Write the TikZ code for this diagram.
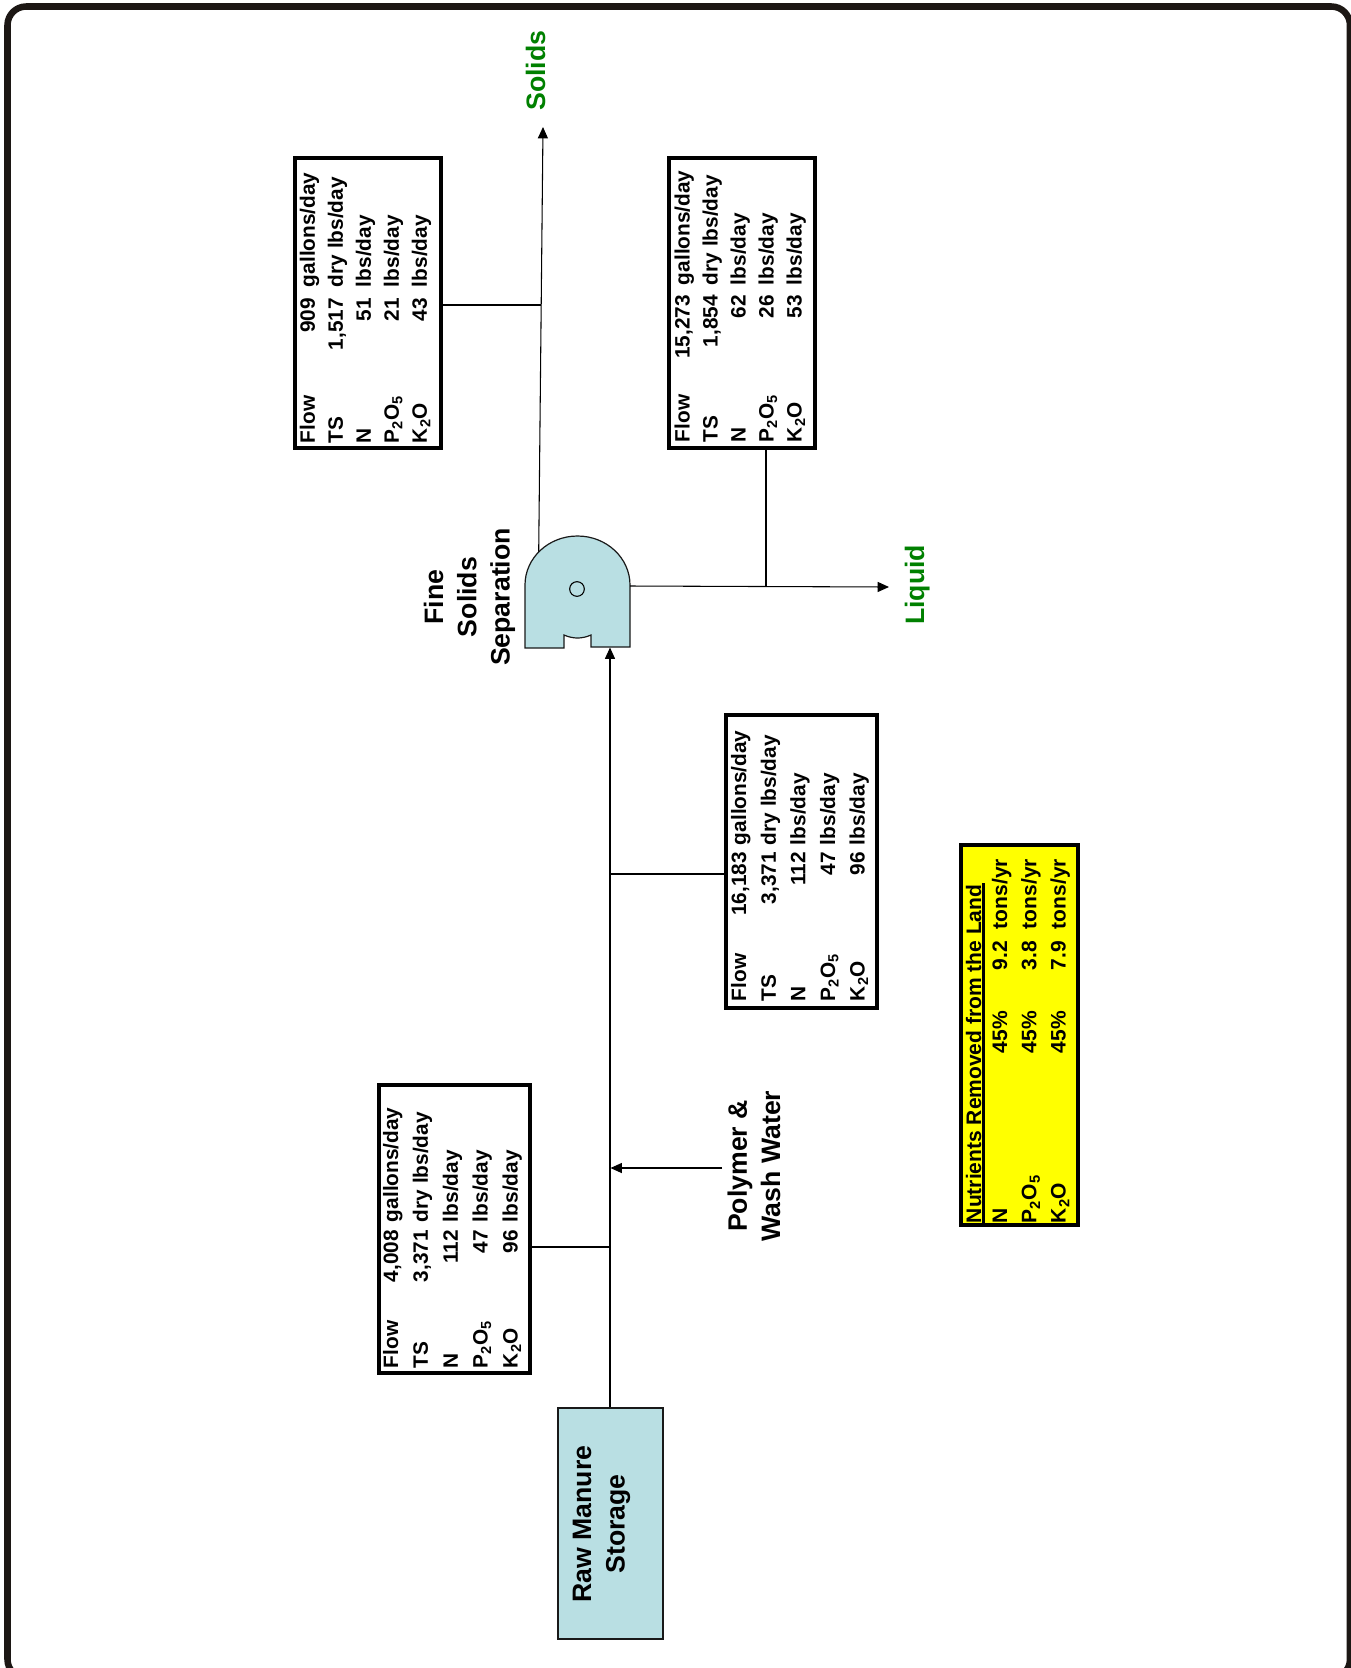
\documentclass[tikz,border=0pt]{standalone}
\usepackage{fontspec}
\usepackage{array}
\setmainfont{Liberation Sans}
\usetikzlibrary{arrows.meta}
\newcolumntype{R}[1]{>{\raggedleft\arraybackslash}p{#1}}
\definecolor{frameink}{HTML}{1C1714}
\definecolor{tankfill}{HTML}{B9DFE3}
\definecolor{streamgreen}{HTML}{008000}
\definecolor{tablefill}{HTML}{FFFF00}
\tikzset{
  frameline/.style={draw=frameink, line width=4.9pt, rounded corners=14pt},
  pipe/.style={draw=black, line width=0.8pt},
  feed/.style={pipe, -{Triangle[length=8.5pt,width=7.5pt]}},
  tank/.style={draw=black!90, fill=tankfill, line width=0.9pt},
  lbl/.style={text=black, font=\fontsize{20}{25}\selectfont\bfseries, align=center, rotate=90},
  stream/.style={lbl, text=streamgreen},
  flowbox/.style={draw=black, line width=3pt, rotate=90, inner sep=0pt,
    minimum width=217.5pt, minimum height=109.5pt,
    font=\fontsize{15.6}{21}\selectfont\bfseries}
}

\begin{document}
\begin{tikzpicture}[x=0.75pt, y=-0.75pt]
    \useasboundingbox (0,0) rectangle (1351,1668);
    \draw[frameline] (7.5,6.5) rectangle (1350,1678);

    % --- EQUIPMENT ---
    \node[tank, minimum width=78.75pt, minimum height=173.25pt] (rawtank) at (610.5,1523.5) {};
    \node[lbl] (rawlabel) at (601.5,1524) {Raw Manure\\Storage};

    % separator
    \coordinate (sepin) at (610,647.5);
    \coordinate (sepsolids) at (538.7,552);
    \coordinate (sepliquid) at (630,586);
    \coordinate (soltip) at (543,127);
    \coordinate (liqtip) at (889,587);
    \draw[feed] (sepsolids) -- (soltip);
    \draw[tank] (525,648) -- (525,585) arc[start angle=180, end angle=360, x radius=52.5, y radius=49]
        -- (630,647) -- (591,647) -- (591,635) .. controls (582,639) and (573,639) .. (564,635)
        -- (564,648) -- cycle;
    \node[draw=black, circle, line width=0.8pt, inner sep=0pt, minimum size=11pt] (sephub) at (577,589) {};
    \node[lbl] (seplabel) at (469.5,597) {Fine\\Solids\\Separation};

    % --- STREAM LABELS ---
    \node[stream, anchor=base] (solidslabel) at (545,70.5) {Solids};
    \node[stream, anchor=base] (liquidlabel) at (924,585) {Liquid};
    \node[lbl] (polylabel) at (754,1166) {Polymer \&\\Wash Water};
    \coordinate (polyfoot) at (722,1168);
    \coordinate (polytip) at (610.5,1168);

    % --- FLOW TABLES ---
    % solids
    \node[flowbox] (solidstab) at (368,303) {\begin{tabular}{@{}p{48pt}@{}R{60.75pt}@{\hspace{8.25pt}}p{93pt}@{}}
        Flow & 909 & gallons/day\\
        TS & 1,517 & dry lbs/day\\
        N & 51 & lbs/day\\
        P\textsubscript{2}O\textsubscript{5} & 21 & lbs/day\\
        K\textsubscript{2}O & 43 & lbs/day\\[4pt]
    \end{tabular}};

    % liquid
    \node[flowbox] (liquidtab) at (742,303) {\begin{tabular}{@{}p{48pt}@{}R{62.25pt}@{\hspace{7.5pt}}p{90.75pt}@{}}
        Flow & 15,273 & gallons/day\\
        TS & 1,854 & dry lbs/day\\
        N & 62 & lbs/day\\
        P\textsubscript{2}O\textsubscript{5} & 26 & lbs/day\\
        K\textsubscript{2}O & 53 & lbs/day\\[3pt]
    \end{tabular}};

    % after polymer
    \node[flowbox, minimum width=219.75pt, minimum height=113.25pt, font=\fontsize{15.6}{22.2}\selectfont\bfseries]
        (mixedtab) at (801.5,861.5) {\begin{tabular}{@{}p{48pt}@{}R{63.75pt}@{\hspace{5.25pt}}p{92.25pt}@{}}
        \noalign{\vspace{-1.5pt}}
        Flow & 16,183 & gallons/day\\
        TS & 3,371 & dry lbs/day\\
        N & 112 & lbs/day\\
        P\textsubscript{2}O\textsubscript{5} & 47 & lbs/day\\
        K\textsubscript{2}O & 96 & lbs/day\\[1.5pt]
    \end{tabular}};

    % raw manure
    \node[flowbox, minimum width=216pt, minimum height=113.25pt, font=\fontsize{15.6}{22.4}\selectfont\bfseries]
        (rawtab) at (454.5,1229) {\begin{tabular}{@{}p{48pt}@{}R{55.5pt}@{\hspace{6pt}}p{99pt}@{}}
        \noalign{\vspace{-2pt}}
        Flow & 4,008 & gallons/day\\
        TS & 3,371 & dry lbs/day\\
        N & 112 & lbs/day\\
        P\textsubscript{2}O\textsubscript{5} & 47 & lbs/day\\
        K\textsubscript{2}O & 96 & lbs/day\\[2pt]
    \end{tabular}};

    % nutrients removed
    \node[flowbox, fill=tablefill, minimum width=285pt, minimum height=87.75pt,
        font=\fontsize{15.75}{22}\selectfont\bfseries]
        (nutrienttab) at (1019.5,1035) {\begin{tabular}{@{}p{127.5pt}@{}l@{}R{52.5pt}@{\hspace{9pt}}p{61.5pt}@{}}
        \noalign{\vspace{-0.5pt}}
        \multicolumn{4}{@{}l@{}}{\makebox[0pt][l]{\rule[-3pt]{255pt}{2.2pt}}Nutrients Removed from the Land}\\[-2.5pt]
        N & 45\% & 9.2 & tons/yr\\
        P\textsubscript{2}O\textsubscript{5} & 45\% & 3.8 & tons/yr\\
        K\textsubscript{2}O & 45\% & 7.9 & tons/yr\\[2.5pt]
    \end{tabular}};

    % --- CONNECTORS ---
    \draw[feed] (rawtank.north -| sepin) -- (sepin);
    \draw[feed] (polyfoot) -- (polytip);
    \draw[feed] (sepliquid) -- (liqtip);
    \draw[pipe] (solidstab.south |- 0,305) -- (541,305);
    \draw[pipe] (liquidtab.west -| 766,0) -- (766,586.5);
    \draw[pipe] (mixedtab.north |- 0,874) -- (610.5,874);
    \draw[pipe] (rawtab.south |- 0,1247) -- (610.5,1247);
\end{tikzpicture}
\end{document}
